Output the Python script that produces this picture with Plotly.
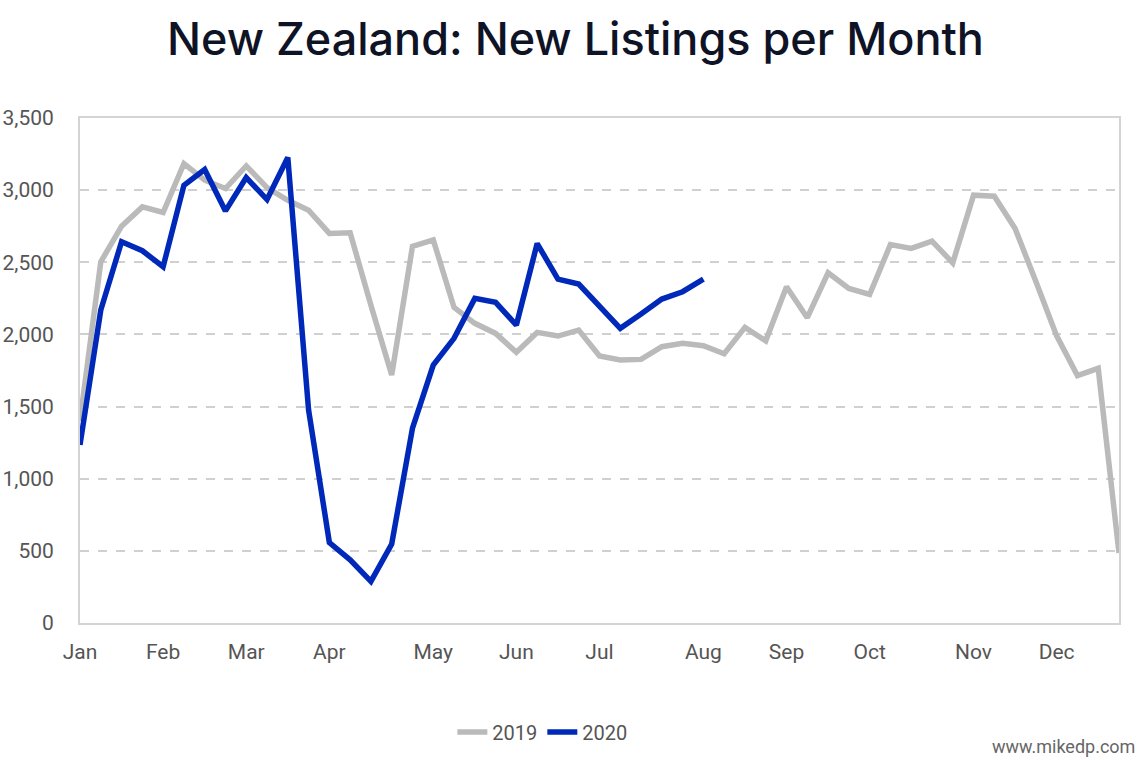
import plotly.graph_objects as go

# Weekly observations (week index 0 = first week of January)
weeks_2019 = list(range(51))
listings_2019 = [1400, 2503, 2750, 2884, 2845, 3184, 3069, 3011, 3168, 3018,
                 2930, 2861, 2700, 2704, 2203, 1719, 2610, 2655, 2187, 2077,
                 2007, 1876, 2014, 1989, 2030, 1850, 1823, 1827, 1915, 1938,
                 1922, 1866, 2049, 1956, 2330, 2116, 2427, 2319, 2277, 2623,
                 2596, 2646, 2496, 2965, 2958, 2734, 2367, 1990, 1715, 1765,
                 485]

weeks_2020 = list(range(31))
listings_2020 = [1234, 2169, 2642, 2580, 2469, 3034, 3143, 2856, 3087, 2935,
                 3226, 1476, 558, 438, 288, 547, 1350, 1788, 1973, 2250,
                 2222, 2065, 2630, 2383, 2349, 2192, 2042, 2141, 2245, 2296,
                 2383]

month_start_week = [0, 4, 8, 12, 17, 21, 25, 30, 34, 38, 43, 47]
month_labels = ["Jan", "Feb", "Mar", "Apr", "May", "Jun",
                "Jul", "Aug", "Sep", "Oct", "Nov", "Dec"]

y_ticks = [0, 500, 1000, 1500, 2000, 2500, 3000, 3500]

fig = go.Figure()
fig.add_trace(go.Scatter(x=weeks_2019, y=listings_2019, mode="lines", name="2019",
                         line=dict(color="#BABABA", width=5.5)))
fig.add_trace(go.Scatter(x=weeks_2020, y=listings_2020, mode="lines", name="2020",
                         line=dict(color="#0029B9", width=5.5)))

fig.update_layout(
    width=1144, height=760,
    paper_bgcolor="white", plot_bgcolor="white",
    margin=dict(l=80, r=25, t=118, b=137, autoexpand=False),
    title=dict(text="New Zealand: New Listings per Month",
               x=0.503, xanchor="center", y=0.948, yanchor="middle",
               font=dict(family="Inter, Noto Sans, sans-serif", size=45,
                         color="#0F1326", weight=500)),
    font=dict(family="Roboto, sans-serif", size=21, color="#555555"),
    showlegend=True,
    legend=dict(orientation="h", x=0.445, xanchor="center", y=-0.216, yanchor="middle",
                font=dict(family="Roboto, sans-serif", size=20, color="#555555"),
                itemwidth=30, tracegroupgap=0),
    annotations=[dict(text="www.mikedp.com", xref="paper", yref="paper",
                      x=1.0175, y=-0.245, xanchor="right", yanchor="middle",
                      showarrow=False,
                      font=dict(family="Roboto, sans-serif", size=18, color="#666666"))],
)

fig.update_xaxes(
    range=[0, 50], tickmode="array", tickvals=month_start_week, ticktext=month_labels,
    showgrid=False, zeroline=False, automargin=False,
    showline=True, linecolor="#D4D4D4", linewidth=2, mirror=True,
    ticks="", ticklabelstandoff=9,
    tickfont=dict(family="Roboto, sans-serif", size=21, color="#555555"),
)
fig.update_yaxes(
    range=[0, 3500], tickmode="array", tickvals=y_ticks,
    tickformat=",d", automargin=False,
    showgrid=True, gridcolor="#D0D0D0", griddash="dash", gridwidth=1.5,
    zeroline=False,
    showline=True, linecolor="#D4D4D4", linewidth=2, mirror=True,
    ticks="", ticklabelstandoff=20,
    tickfont=dict(family="Roboto, sans-serif", size=21, color="#555555"),
)

fig.write_html("out.html",
               config={"displayModeBar": False},
               post_script="document.body.style.margin='0';document.body.style.overflow='hidden';")
